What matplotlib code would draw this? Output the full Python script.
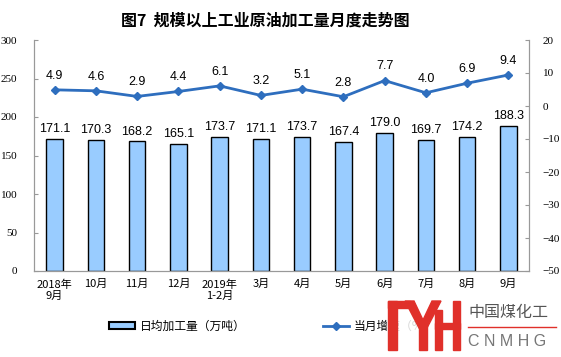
import matplotlib
matplotlib.use("Agg")
import matplotlib.pyplot as plt
from matplotlib.patches import Rectangle, Polygon
import numpy as np

months = ["2018年\n9月", "10月", "11月", "12月", "2019年\n1-2月", "3月", "4月",
          "5月", "6月", "7月", "8月", "9月"]
daily_output = [171.1, 170.3, 168.2, 165.1, 173.7, 171.1, 173.7, 167.4, 179.0, 169.7, 174.2, 188.3]
growth = [4.9, 4.6, 2.9, 4.4, 6.1, 3.2, 5.1, 2.8, 7.7, 4.0, 6.9, 9.4]

plt.rcParams['font.family'] = ['Noto Sans CJK SC', 'DejaVu Sans']
num_font = ['Liberation Serif', 'Noto Sans CJK SC']
lab_font = ['Liberation Sans', 'DejaVu Sans']

W, H = 561, 357
fig = plt.figure(figsize=(W / 100, H / 100), dpi=100)
ax = fig.add_axes([34 / W, 1 - 271 / H, 495 / W, 231 / H])
ax2 = ax.twinx()

x = np.arange(len(months))
bars = ax.bar(x, daily_output, width=0.4, color="#99CCFF", edgecolor="black",
              linewidth=1.0, label="日均加工量（万吨）", zorder=2)
line, = ax2.plot(x, growth, color="#2E6EBE", lw=2, marker="D", ms=4,
                 label="当月增速（%）", zorder=3)

for xi, v in zip(x, daily_output):
    ax.text(xi, v + 5, f"{v:.1f}", ha="center", va="bottom", fontsize=9,
            family=lab_font)
for xi, v in zip(x, growth):
    ax2.text(xi, v + 2.5, f"{v:.1f}", ha="center", va="bottom", fontsize=9,
             family=lab_font)

ax.set_xlim(-0.5, len(months) - 0.5)
ax.set_ylim(0, 300)
ax.set_yticks(range(0, 301, 50))
ax2.set_ylim(-50, 20)
ax2.set_yticks(range(-50, 21, 10))

ax.set_xticks(x)
ax.set_xticklabels(months, fontsize=8, linespacing=1.15)
ax.tick_params(axis="x", length=0, pad=6)
ax.tick_params(axis="y", direction="in", length=3, color="#999999", pad=12)
ax2.tick_params(axis="y", direction="in", length=3, color="#999999", pad=10)
for lab in ax.get_yticklabels() + ax2.get_yticklabels():
    lab.set_family(num_font)
    lab.set_fontsize(8)

for a in (ax, ax2):
    a.spines["top"].set_visible(False)
    for s in ("left", "right", "bottom"):
        a.spines[s].set_color("#999999")
        a.spines[s].set_linewidth(0.8)

fig.text(265 / W, 1 - 21 / H, "图7  规模以上工业原油加工量月度走势图", ha="center", va="center",
         fontsize=11.5, fontweight="bold")

leg = fig.legend(handles=[bars, line], loc="center", bbox_to_anchor=(272 / W, 1 - 326 / H),
                 ncol=2, frameon=False, fontsize=8.5, columnspacing=6.5, handlelength=2.2,
                 handleheight=0.5, handletextpad=0.4)
leg.legend_handles[0].set_linewidth(1.5)

# watermark logo
red = "#E0302A"
px = lambda X, Y: (X / W, 1 - Y / H)
def rect(x0, y0, x1, y1):
    fig.patches.append(Rectangle(px(x0, y1), (x1 - x0) / W, (y1 - y0) / H,
                                 transform=fig.transFigure, color=red, zorder=10))
fig.patches.append(Rectangle((387 / W, 0), 1 - 387 / W, 62 / H, transform=fig.transFigure,
                             color="white", alpha=0.85, zorder=9))
rect(388, 301, 397, 350)
rect(388, 301, 410, 308)
fig.patches.append(Polygon([px(405, 301), px(414, 301), px(423, 320), px(432, 301), px(441, 301),
                            px(427, 328), px(419, 328)],
                           closed=True, transform=fig.transFigure, color=red, zorder=10))
rect(419, 324, 427, 350)
rect(435, 310, 442, 350)
rect(453, 301, 460, 350)
rect(435, 323, 460, 329)
fig.text(468 / W, 1 - 312 / H, "中国煤化工", fontsize=11.5, color="#555555", va="center",
         ha="left", zorder=11)
fig.lines.append(plt.Line2D([468 / W, 556 / W], [1 - 327 / H, 1 - 327 / H],
                            transform=fig.transFigure, color=red, lw=1, zorder=11))
fig.text(468 / W, 1 - 341 / H, "C N M H G", fontsize=11.5, color="#777777", va="center",
         ha="left", family=lab_font, zorder=11)

fig.savefig("out.png", dpi=100)
